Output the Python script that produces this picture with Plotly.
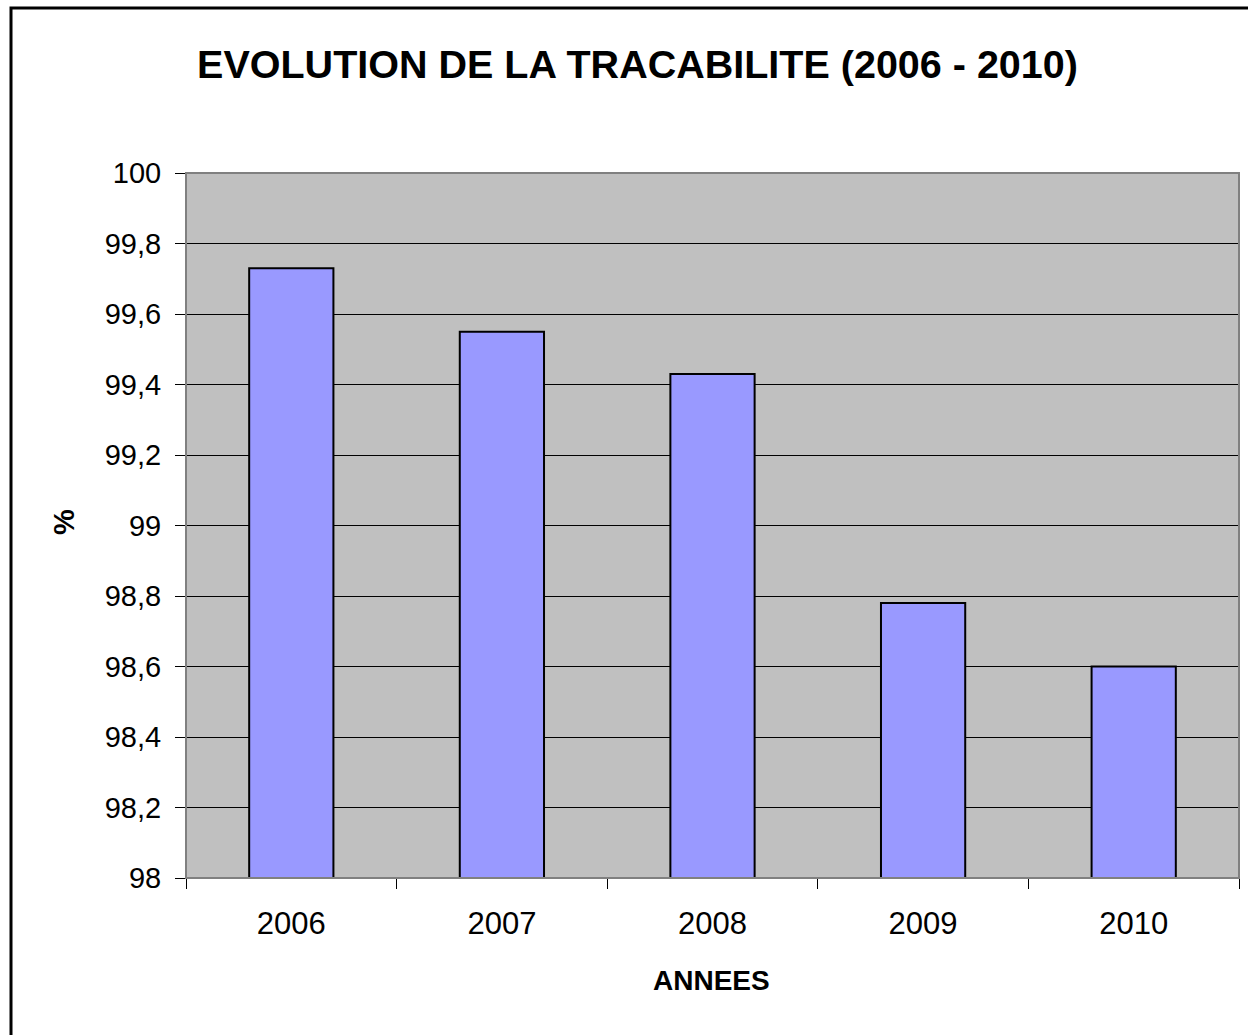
import plotly.graph_objects as go

years = ["2006", "2007", "2008", "2009", "2010"]
values = [99.73, 99.55, 99.43, 98.78, 98.60]
y_ticks = [98, 98.2, 98.4, 98.6, 98.8, 99, 99.2, 99.4, 99.6, 99.8, 100]
y_tick_labels = ["98", "98,2", "98,4", "98,6", "98,8", "99", "99,2", "99,4", "99,6", "99,8", "100"]

W, H = 1248, 1035
L, R, T, B = 186, 9, 173, 157
pw = W - L - R
ph = H - T - B

def px_x(p):
    return (p - L) / pw

def px_y(p):
    return (H - B - p) / ph

font = "Liberation Sans, Arial, sans-serif"

fig = go.Figure(go.Bar(
    x=years, y=values,
    marker=dict(color="#9999FF", line=dict(color="#000000", width=2)),
    hoverinfo="x+y",
))

fig.update_layout(
    width=W, height=H,
    margin=dict(l=L, r=R, t=T, b=B, autoexpand=False),
    paper_bgcolor="#FFFFFF",
    plot_bgcolor="#C0C0C0",
    bargap=0.6,
    showlegend=False,
    title=dict(
        text="<b>EVOLUTION DE LA TRACABILITE (2006 - 2010)</b>",
        font=dict(family=font, size=39.5, color="#000000"),
        x=637.5 / W, xref="container", xanchor="center",
        y=1 - 64 / H, yref="container", yanchor="middle",
    ),
    xaxis=dict(
        type="category",
        showgrid=False,
        showline=True, linecolor="#000000", linewidth=1,
        ticks="outside", tickson="boundaries", ticklen=10, tickcolor="#000000", tickwidth=1,
        tickfont=dict(family=font, size=31, color="#000000"),
        ticklabelstandoff=18,
        fixedrange=True,
    ),
    yaxis=dict(
        range=[98, 100],
        tickvals=y_ticks, ticktext=y_tick_labels,
        showgrid=True, gridcolor="#000000", gridwidth=1,
        showline=True, linecolor="#333333", linewidth=1,
        ticks="outside", ticklen=10, tickcolor="#000000", tickwidth=1,
        tickfont=dict(family=font, size=29, color="#000000"),
        ticklabelstandoff=8,
        zeroline=False,
        fixedrange=True,
    ),
    shapes=[
        dict(type="rect", xref="paper", yref="paper", x0=0, y0=0, x1=1, y1=1,
             line=dict(color="#808080", width=2), fillcolor="rgba(0,0,0,0)", layer="above"),
        dict(type="rect", xref="paper", yref="paper",
             x0=px_x(11), y0=px_y(1100), x1=px_x(1300), y1=px_y(8),
             line=dict(color="#000000", width=3), fillcolor="rgba(0,0,0,0)"),
    ],
    annotations=[
        dict(text="<b>ANNEES</b>", xref="paper", yref="paper",
             x=px_x(711), y=px_y(980), xanchor="center", yanchor="middle",
             showarrow=False, font=dict(family=font, size=28, color="#000000")),
        dict(text="<b>%</b>", xref="paper", yref="paper",
             x=px_x(64), y=px_y(522), xanchor="center", yanchor="middle",
             textangle=-90,
             showarrow=False, font=dict(family=font, size=29, color="#000000")),
    ],
)

fig.write_html("out.html", config={"displayModeBar": False},
               post_script="document.body.style.margin='0';")
